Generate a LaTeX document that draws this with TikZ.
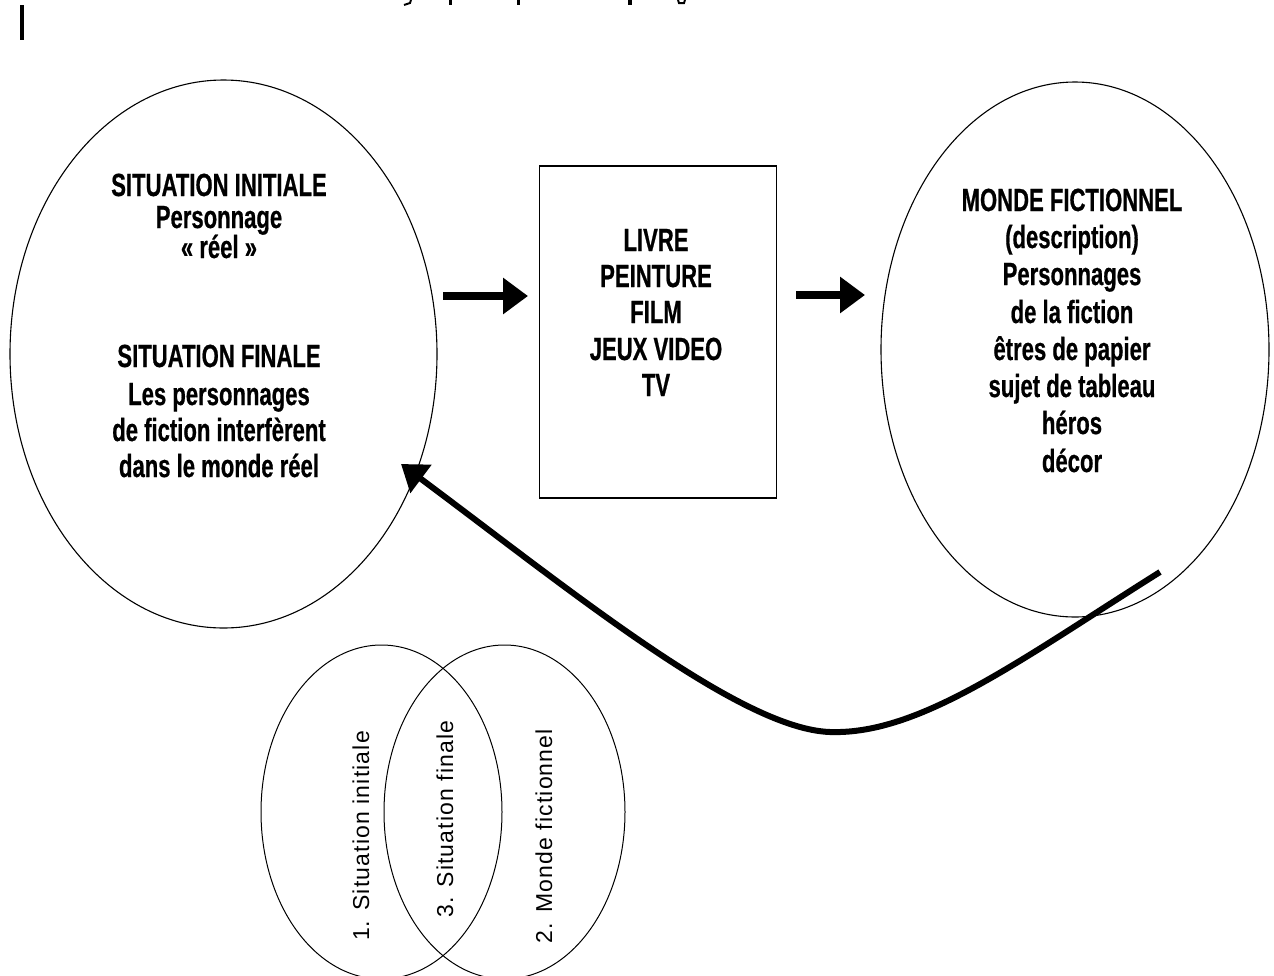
\documentclass[tikz,border=0pt]{standalone}
\usepackage{fontspec}
\usetikzlibrary{shapes.geometric,arrows.meta}
\newfontfamily\condfont[FakeStretch=0.69, FakeBold=0.6]{Liberation Sans}
\newfontfamily\vennfont[LetterSpace=5]{Liberation Sans}
\begin{document}
\begin{tikzpicture}[x=1pt,y=-1pt,
  oval/.style={draw, ellipse, line width=1.1pt, inner sep=0pt, outer sep=0pt},
  thinoval/.style={draw, ellipse, line width=1pt, inner sep=0pt, outer sep=0pt},
  mediabox/.style={draw, rectangle, line width=1.4pt, inner sep=0pt, outer sep=0pt},
  bigtext/.style={font=\condfont\bfseries\fontsize{32}{36}\selectfont, anchor=base, inner sep=0pt},
  venntext/.style={font=\vennfont\fontsize{23}{26}\selectfont, rotate=90, inner sep=0pt},
  fat/.style={line width=8pt, -{Triangle[length=25pt,width=35pt]}},
  curvy/.style={line width=6pt, -{Triangle[length=25pt,width=34pt]}},
  frag/.style={fill=black}
]
\clip (0,0) rectangle (1274,975);
\fill[white] (0,0) rectangle (1274,975);

% fragments at the top
\fill[frag] (20,5) rectangle (24,40);
\fill[frag] (449,0) rectangle (452,5);
\fill[frag] (517,0) rectangle (520,5);
\fill[frag] (628,0) rectangle (632,5);
\draw[line width=2pt] (404,5) -- (410,3) -- (411,0);
\draw[line width=2pt] (678,0) -- (679,3) -- (684,3) -- (685,0);

% main shapes
\node[oval, minimum width=427pt, minimum height=548pt] (L) at (223.5,354) {};
\node[oval, minimum width=388pt, minimum height=535pt] (R) at (1075,349.5) {};
\node[mediabox, minimum width=237pt, minimum height=332pt] (B) at (658,332) {};

% texts left
\node[bigtext] (l1) at (219,196) {SITUATION INITIALE};
\node[bigtext] (l2) at (219,228) {Personnage};
\node[bigtext] (l3) at (219,258) {« réel »};
\node[bigtext] (l4) at (219,367) {SITUATION FINALE};
\node[bigtext] (l5) at (219,405) {Les personnages};
\node[bigtext] (l6) at (219,441) {de fiction interfèrent};
\node[bigtext] (l7) at (219,477) {dans le monde réel};

% texts box
\node[bigtext] (b1) at (656,251) {LIVRE};
\node[bigtext] (b2) at (656,287) {PEINTURE};
\node[bigtext] (b3) at (656,323) {FILM};
\node[bigtext] (b4) at (656,360) {JEUX VIDEO};
\node[bigtext] (b5) at (656,396) {TV};

% texts right
\node[bigtext] (r1) at (1072,211) {MONDE FICTIONNEL};
\node[bigtext] (r2) at (1072,248) {(description)};
\node[bigtext] (r3) at (1072,285) {Personnages};
\node[bigtext] (r4) at (1072,323) {de la fiction};
\node[bigtext] (r5) at (1072,360) {êtres de papier};
\node[bigtext] (r6) at (1072,397) {sujet de tableau};
\node[bigtext] (r7) at (1072,434) {héros};
\node[bigtext] (r8) at (1072,472) {décor};

% straight arrows
\coordinate (a1s) at (443,296);
\coordinate (a1e) at (528,296);
\coordinate (a2s) at (796,295);
\coordinate (a2e) at (865,295);
\draw[fat] (a1s) -- (a1e);
\draw[fat] (a2s) -- (a2e);

% curved arrow from right ellipse back to left ellipse
\coordinate (cs) at (1160,572);
\coordinate (cm) at (830,732);
\coordinate (ce) at (401,464);
\draw[curvy] (cs) .. controls (1020,660) and (920,735) .. (cm)
                  .. controls (740,729) and (570,590) .. (ce);

% Venn diagram
\node[thinoval, minimum width=241pt, minimum height=334pt] (V1) at (381.5,812) {};
\node[thinoval, minimum width=241pt, minimum height=334pt] (V2) at (504.5,812) {};
\node[venntext] (v1) at (361,836) {1. Situation initiale};
\node[venntext] (v3) at (445,819) {3. Situation finale};
\node[venntext] (v2) at (544,836) {2. Monde fictionnel};
\end{tikzpicture}
\end{document}
